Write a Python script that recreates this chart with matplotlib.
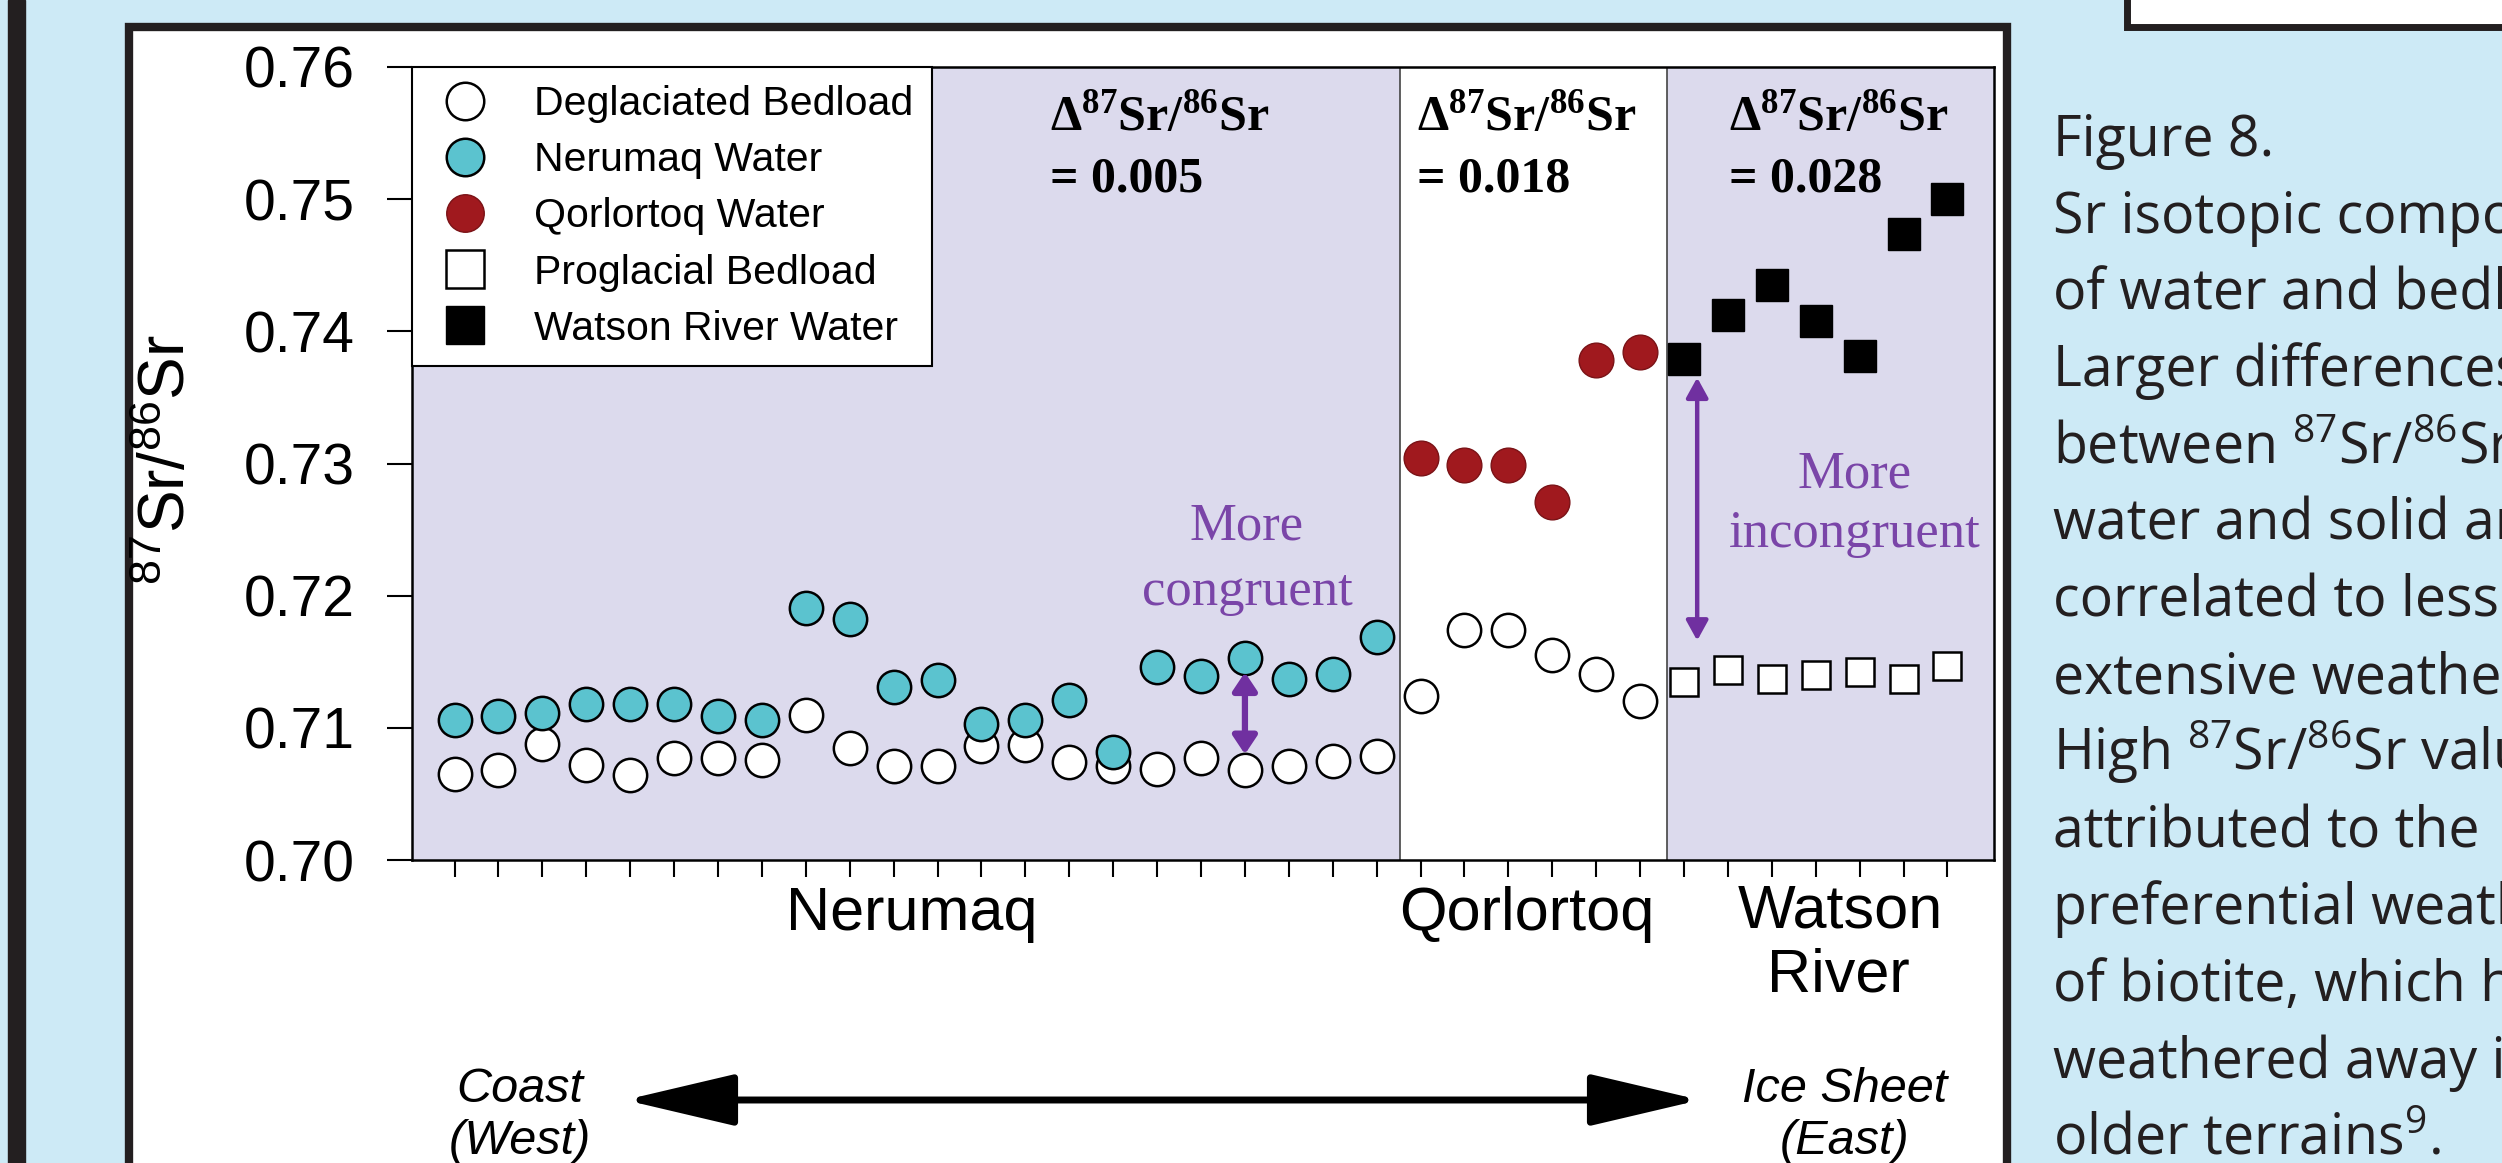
import matplotlib
matplotlib.use('Agg')
import matplotlib.pyplot as plt
from matplotlib.patches import Rectangle, FancyArrowPatch

plt.rcParams['font.family'] = ['Liberation Sans', 'DejaVu Sans']
plt.rcParams['mathtext.fontset'] = 'custom'
plt.rcParams['mathtext.rm'] = 'Liberation Sans'
plt.rcParams['mathtext.sf'] = 'Open Sans'
plt.rcParams['mathtext.bf'] = 'Liberation Serif:bold'

# samples ordered west (coast) -> east (ice sheet)
deglac_x = list(range(1, 29))
deglaciated_bedload = [0.7065, 0.7068, 0.7088, 0.7072, 0.7064, 0.7077, 0.7077, 0.7076,
                       0.7110, 0.7085, 0.7071, 0.7071, 0.7086, 0.7087, 0.7074, 0.7071,
                       0.7069, 0.7077, 0.7068, 0.7071, 0.7075, 0.7079,
                       0.7124, 0.7174, 0.7174, 0.7155, 0.7141, 0.7120]
nerumaq_x = list(range(1, 23))
nerumaq_water = [0.7106, 0.7109, 0.7111, 0.7118, 0.7118, 0.7118, 0.7109, 0.7106,
                 0.7191, 0.7182, 0.7131, 0.7136, 0.7103, 0.7106, 0.7121, 0.7082,
                 0.7146, 0.7139, 0.7153, 0.7137, 0.7141, 0.7169]
qorlortoq_x = list(range(23, 29))
qorlortoq_water = [0.7304, 0.7299, 0.7299, 0.7271, 0.7378, 0.7384]
watson_x = list(range(29, 36))
proglacial_bedload = [0.7135, 0.7144, 0.7137, 0.7140, 0.7142, 0.7137, 0.7147]
watson_water = [0.7379, 0.7412, 0.7435, 0.7408, 0.7381, 0.7474, 0.7500]

region_edges = [22.54, 28.61]
region_names = ['Nerumaq', 'Qorlortoq', 'Watson', 'River']
delta_values = ['= 0.005', '= 0.018', '= 0.028']
y_ticks = [0.70, 0.71, 0.72, 0.73, 0.74, 0.75, 0.76]
y_ticklabels = ['0.70', '0.71', '0.72', '0.73', '0.74', '0.75', '0.76']

caption = ['Figure 8.',
           'Sr isotopic composition',
           'of water and bedload.',
           'Larger differences',
           r'between $\mathsf{^{87}Sr/^{86}Sr}$ in',
           'water and solid are',
           'correlated to less',
           'extensive weathering.',
           r'High $\mathsf{^{87}Sr/^{86}Sr}$ values',
           'attributed to the',
           'preferential weathering',
           'of biotite, which has',
           'weathered away in',
           r'older terrains$\mathsf{^{9}}$.']

W, H = 2502, 1163
bg = '#cdeaf6'
ink = '#231f20'
lavender = '#dcdaed'
cyan = '#5bc3cf'
red = '#a0191e'
purple = '#7030a0'
purple_txt = '#7a45a8'


def fx(p):
    return p / W


def fy(p):
    return 1 - p / H


fig = plt.figure(figsize=(W / 100, H / 100), dpi=100)
fig.patch.set_facecolor(bg)

# page decoration
fig.add_artist(Rectangle((fx(8), 0), fx(17), 1, transform=fig.transFigure,
                         color=ink, zorder=-2))
fig.add_artist(Rectangle((fx(129), -0.1), fx(2007 - 129), fy(27) + 0.1,
                         transform=fig.transFigure, facecolor='white',
                         edgecolor=ink, lw=6, zorder=-2))
fig.add_artist(Rectangle((fx(2127), fy(27)), 0.3, 0.3, transform=fig.transFigure,
                         facecolor='white', edgecolor=ink, lw=5, zorder=-2))

ax = fig.add_axes([fx(412), 1 - 860 / H, (1994 - 412) / W, (860 - 67) / H])
xmin, xmax = 0.03, 36.06
ax.set_xlim(xmin, xmax)
ax.set_ylim(0.70, 0.76)

ax.axvspan(xmin, region_edges[0], color=lavender, lw=0, zorder=0)
ax.axvspan(region_edges[1], xmax, color=lavender, lw=0, zorder=0)
for e in region_edges:
    ax.axvline(e, color='#444444', lw=1.2, zorder=1)

ax.plot(deglac_x, deglaciated_bedload, 'o', ms=24, mfc='white', mec='black',
        mew=1.8, label='Deglaciated Bedload', zorder=3)
ax.plot(nerumaq_x, nerumaq_water, 'o', ms=24, mfc=cyan, mec='black',
        mew=1.8, label='Nerumaq Water', zorder=4)
ax.plot(qorlortoq_x, qorlortoq_water, 'o', ms=25, mfc=red, mec='#7a1216',
        mew=1.0, label='Qorlortoq Water', zorder=4)
ax.plot(watson_x, proglacial_bedload, 's', ms=19.5, mfc='white', mec='black',
        mew=1.8, label='Proglacial Bedload', zorder=3)
ax.plot(watson_x, watson_water, 's', ms=23.5, mfc='black', mec='black',
        mew=1.0, label='Watson River Water', zorder=4)

ax.set_yticks(y_ticks)
ax.set_yticklabels(y_ticklabels)
ax.set_xticks(range(1, 36))
ax.tick_params(axis='y', direction='out', length=18, width=1.5, pad=23,
               labelsize=41)
ax.tick_params(axis='x', direction='out', length=12, width=1.5,
               labelbottom=False)
for s in ax.spines.values():
    s.set_linewidth(1.8)

leg = ax.legend(loc='upper left', bbox_to_anchor=(0, 1), borderaxespad=0,
                fancybox=False, edgecolor='black', framealpha=1, fontsize=29.5,
                handlelength=1.69, handletextpad=0.84, labelspacing=0.44,
                borderpad=0.45, numpoints=1)
leg.get_frame().set_linewidth(1.5)
for h in leg.legend_handles:
    h.set_markersize(27)

# delta annotations
for xp, val in zip([1050, 1417, 1729], delta_values):
    fig.text(fx(xp), fy(130), r'$\mathbf{\Delta^{87}Sr/^{86}Sr}$', fontsize=36,
             va='baseline', ha='left')
    fig.text(fx(xp), fy(192), val, fontsize=36, family='Liberation Serif',
             weight='bold', va='baseline', ha='left')

# congruence arrows
ax.annotate('', xy=(19, 0.7080), xytext=(19, 0.7142),
            arrowprops=dict(arrowstyle='<|-|>,head_length=0.9,head_width=0.6',
                            mutation_scale=12, color=purple, lw=4.5,
                            shrinkA=0, shrinkB=0), zorder=5)
ax.annotate('', xy=(29.3, 0.7166), xytext=(29.3, 0.7365),
            arrowprops=dict(arrowstyle='<|-|>,head_length=1.0,head_width=0.55',
                            mutation_scale=12, color=purple, lw=3.2,
                            shrinkA=0, shrinkB=0), zorder=5)
for xp, yp, s in [(1247, 540, 'More'), (1247, 605, 'congruent'),
                  (1855, 487, 'More'), (1855, 547, 'incongruent')]:
    fig.text(fx(xp), fy(yp), s, fontsize=38, family='Liberation Serif',
             color=purple_txt, ha='center', va='baseline')

# y label
fig.text(fx(167), fy(460), r'$\mathrm{^{87}Sr/^{86}Sr}$', rotation=90,
         ha='center', va='center', fontsize=46)

# region labels under the axis
for (xp, yp), s in zip([(912, 930), (1527, 930), (1840, 927), (1838, 992)],
                       region_names):
    fig.text(fx(xp), fy(yp), s, fontsize=44, ha='center', va='baseline')

# coast -> ice sheet arrow
fig.text(fx(520), fy(1090), 'Coast', fontsize=35, style='italic', ha='center', va='center')
fig.text(fx(520), fy(1142), '(West)', fontsize=35, style='italic', ha='center', va='center')
fig.text(fx(1845), fy(1090), 'Ice Sheet', fontsize=35, style='italic', ha='center', va='center')
fig.text(fx(1845), fy(1142), '(East)', fontsize=35, style='italic', ha='center', va='center')
fig.add_artist(FancyArrowPatch((fx(625), fy(1100)), (fx(1700), fy(1100)),
                               transform=fig.transFigure,
                               arrowstyle='<|-|>,head_length=3.4,head_width=0.8',
                               mutation_scale=20, lw=5, color='black',
                               shrinkA=0, shrinkB=0))

# caption on the right
for i, line in enumerate(caption):
    fig.text(fx(2053), fy(156 + i * 76.8), line, fontsize=40, family='Open Sans',
             color=ink, ha='left', va='baseline')

fig.savefig('out.png', dpi=100, facecolor=bg)
